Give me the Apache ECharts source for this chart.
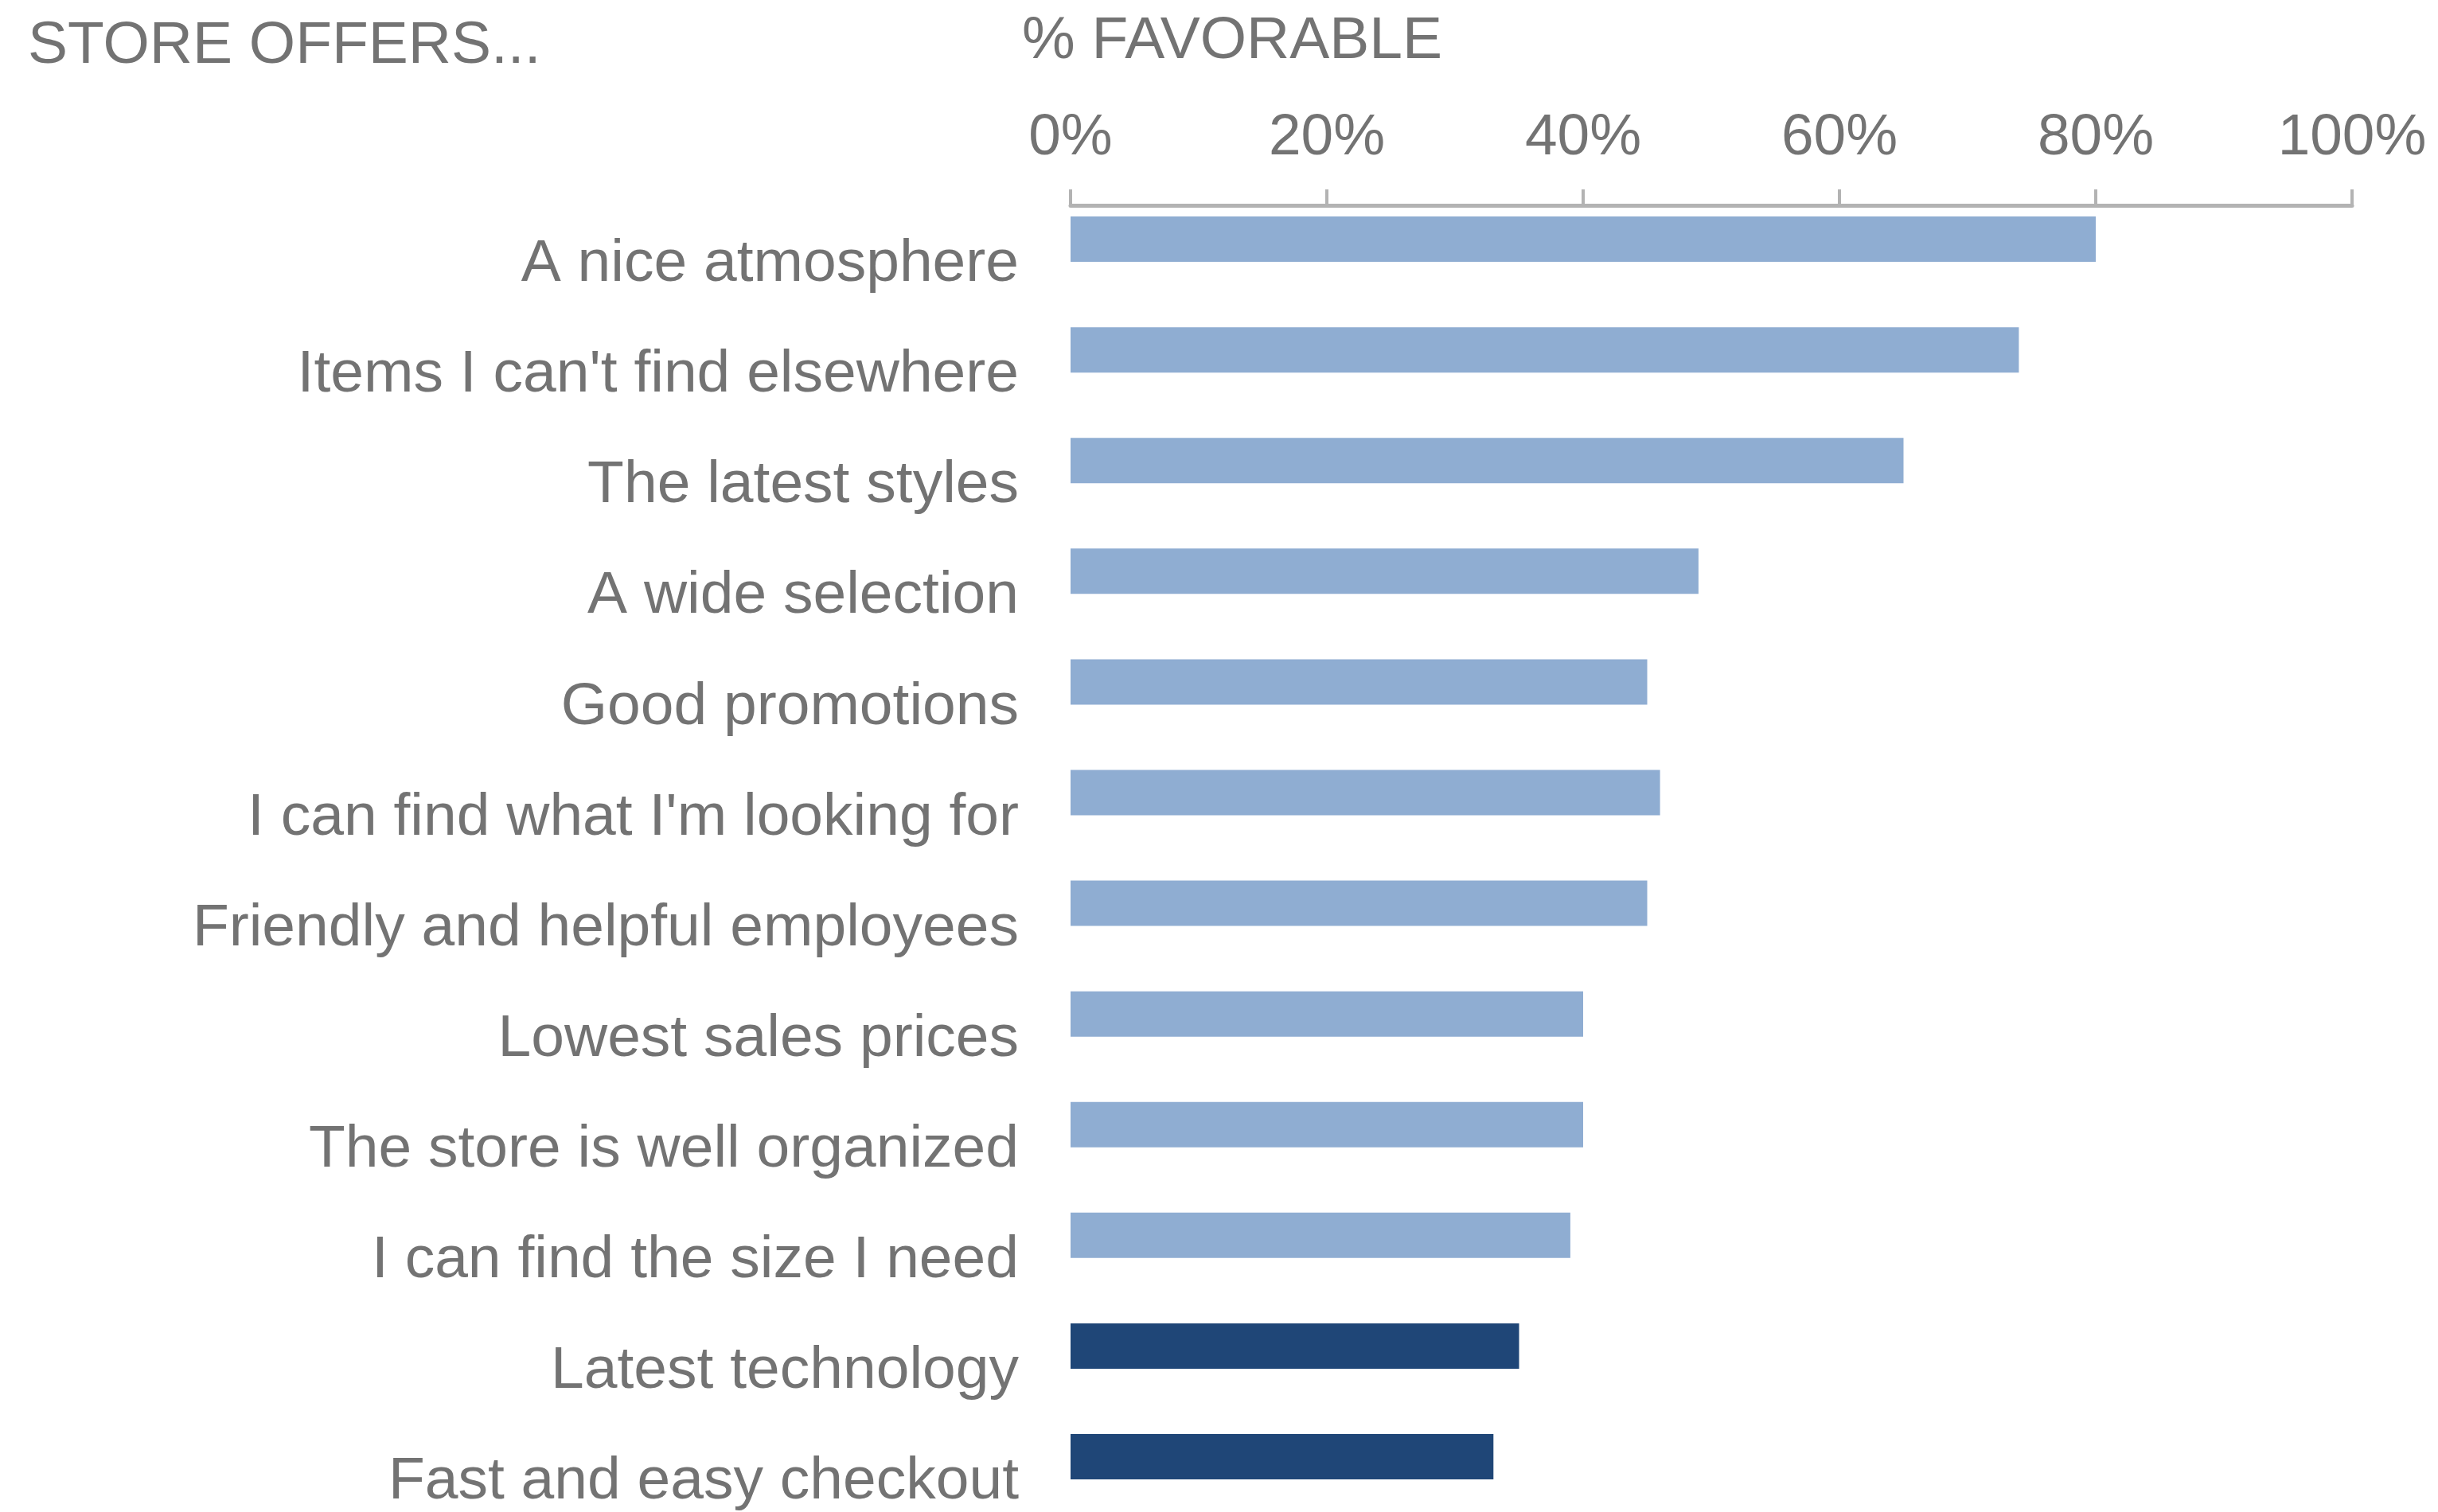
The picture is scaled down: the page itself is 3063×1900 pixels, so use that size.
<!DOCTYPE html>
<html>
<head>
<meta charset="utf-8">
<title>Store offers — % favorable</title>
<script src="https://cdn.jsdelivr.net/npm/echarts@6/dist/echarts.min.js"></script>
<style>
  html, body { margin: 0; padding: 0; background: #ffffff; }
  #chart { width: 3063px; height: 1900px; }
</style>
</head>
<body>
<div id="chart"></div>
<script>
// Survey statements, top to bottom
const categories = [
  "A nice atmosphere",
  "Items I can't find elsewhere",
  "The latest styles",
  "A wide selection",
  "Good promotions",
  "I can find what I'm looking for",
  "Friendly and helpful employees",
  "Lowest sales prices",
  "The store is well organized",
  "I can find the size I need",
  "Latest technology",
  "Fast and easy checkout"
];

// Share of respondents answering favorably (%)
const favorable = [80, 74, 65, 49, 45, 46, 45, 40, 40, 39, 35, 33];

// Statements called out in the darker shade
const highlighted = ["Latest technology", "Fast and easy checkout"];

// Percent scale ticks
const tickValues = [0, 20, 40, 60, 80, 100];

const TEXT = '#737373';
const LIGHT = '#8fadd2';
const DARK = '#1f4677';
const FONT = 'Liberation Sans, Arial, Helvetica, sans-serif';

const chart = echarts.init(document.getElementById('chart'), null, { renderer: 'canvas' });

chart.setOption({
  backgroundColor: '#ffffff',
  animation: false,
  textStyle: { fontFamily: FONT },
  title: [
    {
      text: 'STORE OFFERS...',
      left: 30, top: 16,
      textStyle: { color: TEXT, fontSize: 75, fontWeight: 'normal', fontFamily: FONT }
    },
    {
      text: '% FAVORABLE',
      left: 1279, top: 10,
      textStyle: { color: TEXT, fontSize: 75, fontWeight: 'normal', fontFamily: FONT }
    }
  ],
  grid: {
    left: 1345,
    right: 108,
    top: 231,
    height: 1669,
    containLabel: false
  },
  xAxis: {
    type: 'value',
    position: 'top',
    offset: -27,
    min: tickValues[0],
    max: tickValues[tickValues.length - 1],
    interval: 20,
    axisLine: { show: true, lineStyle: { color: '#b3b3b3', width: 5 } },
    axisTick: { show: true, length: 20, lineStyle: { color: '#b3b3b3', width: 4 } },
    splitLine: { show: false },
    axisLabel: {
      color: TEXT,
      fontSize: 73,
      fontFamily: FONT,
      margin: 48,
      formatter: v => v + '%'
    }
  },
  yAxis: {
    type: 'category',
    inverse: true,
    data: categories,
    axisLine: { show: false },
    axisTick: { show: false },
    splitLine: { show: false },
    axisLabel: {
      color: TEXT,
      fontSize: 75,
      fontFamily: FONT,
      margin: 65,
      verticalAlign: 'top',
      lineHeight: 64
    }
  },
  series: [{
    type: 'bar',
    barWidth: 57,
    data: favorable.map((v, i) => ({
      value: v,
      itemStyle: { color: highlighted.includes(categories[i]) ? DARK : LIGHT }
    }))
  }]
});
</script>
</body>
</html>
